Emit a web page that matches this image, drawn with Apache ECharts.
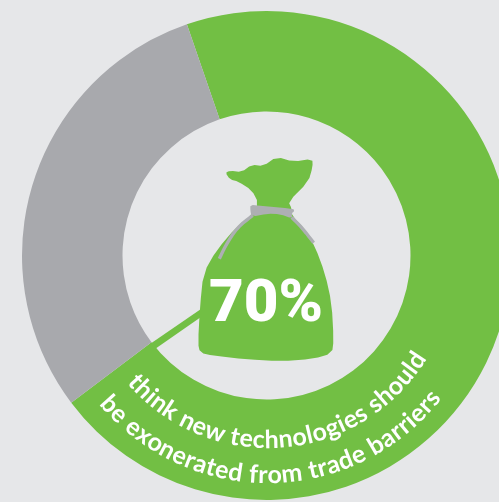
<!DOCTYPE html>
<html>
<head>
<meta charset="utf-8">
<style>html,body{margin:0;padding:0;background:#e6e7e9;overflow:hidden}#c{width:499px;height:502px}</style>
<script src="https://cdn.jsdelivr.net/npm/echarts@6/dist/echarts.min.js"></script>
</head>
<body>
<div id="c"></div>
<script>
// Survey share shown as a ring
const segmentNames = ['Agree', 'Other'];
const segmentValues = [70, 30];
const segmentColors = ['#72bf44', '#a8a9ad'];
const headline = '70%';
const captionLines = ['think new technologies should', 'be exonerated from trade barriers'];

const CX = 266.5, CY = 255.5, R_IN = 144, R_OUT = 244.5;
const TEXT_CX = 268, TEXT_CY = 262.5;
const GREEN = segmentColors[0], CORD = '#adafb3';

// Rounds an outline by repeated corner cutting (points sit on a 3x grid, scaled down by the group)
function rounded(pts, closed, passes) {
  let cur = pts;
  for (let k = 0; k < passes; k++) {
    const next = [];
    const n = cur.length;
    const last = closed ? n : n - 1;
    if (!closed) next.push(cur[0]);
    for (let i = 0; i < last; i++) {
      const a = cur[i], b = cur[(i + 1) % n];
      next.push([a[0] * 0.75 + b[0] * 0.25, a[1] * 0.75 + b[1] * 0.25]);
      next.push([a[0] * 0.25 + b[0] * 0.75, a[1] * 0.25 + b[1] * 0.75]);
    }
    if (!closed) next.push(cur[n - 1]);
    cur = next;
  }
  return cur;
}

const bagOutline = [[136,98],[150,92],[185,96],[215,74],[250,78],[290,50],[340,65],[397,56],[398,80],[385,125],
  [325,185],[335,205],[336,228],[375,268],[405,320],[435,400],[455,490],[461,600],[456,640],[400,657],[300,664],
  [200,658],[100,647],[60,638],[54,610],[60,500],[70,400],[110,330],[170,260],[215,226],[236,190],[215,150],
  [175,125],[150,118]];
const band = [[211,194],[240,197],[340,206],[343,214],[335,220],[337,236],[300,222],[262,221],[215,230],[211,212]];
const cordLeft = [[118,356],[135,320],[170,264],[218,226]];
const cordRight = [[335,232],[365,262],[401,308]];

// Places one caption line along a circle, one glyph at a time
function arcText(text, radius, startDeg, endDeg, font) {
  const ctx = document.createElement('canvas').getContext('2d');
  ctx.font = font;
  const total = ctx.measureText(text).width;
  const span = (endDeg - startDeg) * Math.PI / 180 * radius;
  const gap = (span - total) / (text.length - 1);
  const out = [];
  for (let i = 0; i < text.length; i++) {
    const before = ctx.measureText(text.slice(0, i)).width + gap * i;
    const w = ctx.measureText(text[i]).width;
    const th = (startDeg * Math.PI / 180) + (before + w / 2) / radius;
    out.push({
      type: 'text', silent: true, z: 10,
      x: TEXT_CX + radius * Math.sin(th), y: TEXT_CY + radius * Math.cos(th), rotation: th,
      style: { text: text[i], font, fill: '#fff', align: 'center', verticalAlign: 'bottom' }
    });
  }
  return out;
}

const captionFont = '700 25px Lato';
const chart = echarts.init(document.getElementById('c'), null, { renderer: 'canvas' });
chart.setOption({
  backgroundColor: '#e6e7e9',
  animation: false,
  series: [{
    type: 'pie',
    center: [CX, CY],
    radius: [R_IN, R_OUT],
    startAngle: 109,
    clockwise: true,
    silent: true,
    label: { show: false },
    labelLine: { show: false },
    data: segmentValues.map((v, i) => ({ name: segmentNames[i], value: v, itemStyle: { color: segmentColors[i] } }))
  }],
  graphic: [
    { type: 'polygon', silent: true, z: 10, shape: { points: [[150,344],[155,349],[201,317],[201,309]] }, style: { fill: GREEN } },
    {
      type: 'group', x: 180, y: 140, scaleX: 1 / 3, scaleY: 1 / 3, silent: true,
      children: [
        { type: 'polygon', z: 10, shape: { points: rounded(bagOutline, true, 1) }, style: { fill: GREEN } },
        { type: 'polygon', z: 11, shape: { points: rounded(band, true, 1) }, style: { fill: CORD } },
        { type: 'polyline', z: 11, shape: { points: rounded(cordLeft, false, 2) }, style: { fill: null, stroke: CORD, lineWidth: 10 } },
        { type: 'polyline', z: 11, shape: { points: rounded(cordRight, false, 2) }, style: { fill: null, stroke: CORD, lineWidth: 10 } }
      ]
    },
    { type: 'text', silent: true, z: 12, x: 266, y: 306,
      style: { text: headline, font: '900 60px Roboto', fill: '#fff', align: 'center', verticalAlign: 'middle' } },
    ...arcText(captionLines[0], 190, -49.5, 58.8, captionFont),
    ...arcText(captionLines[1], 225, -50, 51.9, captionFont)
  ]
});
</script>
</body>
</html>
